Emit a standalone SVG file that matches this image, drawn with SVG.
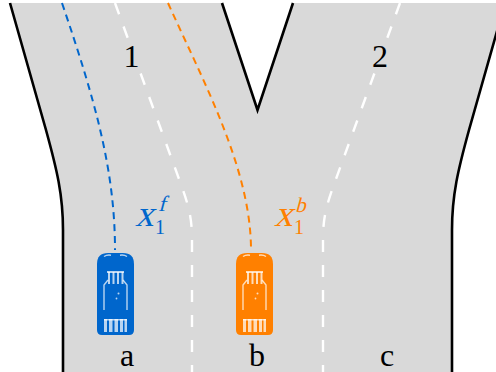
<svg xmlns="http://www.w3.org/2000/svg" xmlns:xlink="http://www.w3.org/1999/xlink" width="496" height="372" viewBox="0 0 496 372">
  <style>
    .edge { fill: none; stroke: #000; stroke-width: 2.6; stroke-linejoin: miter; }
    .lane { fill: none; stroke: #fff; stroke-width: 2.4; stroke-dasharray: 12 13; }
    .path { fill: none; stroke-width: 2; stroke-dasharray: 7 5; }
    .lbl { font-family: "Liberation Serif", "DejaVu Serif", serif; font-size: 32px; fill: #000; text-anchor: middle; }
    .math { font-family: "Liberation Serif", "DejaVu Serif", serif; }
    .det { fill: #fff; fill-opacity: 0.72; }
    .detl { fill: none; stroke: #fff; stroke-opacity: 0.72; stroke-width: 1.4; }
  </style>
  <defs>
    <!-- car seen from above, local origin at top-left, 37 x 82 -->
    <path id="carBody" d="M0,11 Q0,0 11,0 L26,0 Q37,0 37,11 L37,77 Q37,82 32,82 L5,82 Q0,82 0,77 Z"/>
    <g id="carDetail">
      <path class="detl" d="M7,3.5 Q10,1.5 14,2.2 M23,2.2 Q27,1.5 30,3.5"/>
      <rect class="det" x="10" y="18" width="17" height="2"/>
      <rect class="det" x="11" y="19" width="2" height="12"/>
      <rect class="det" x="15.5" y="19" width="2" height="12"/>
      <rect class="det" x="20" y="19" width="2" height="12"/>
      <rect class="det" x="24.5" y="19" width="2" height="12"/>
      <path class="detl" d="M11,27 L7,32 L7,57 M26,27 L30,32 L30,57"/>
      <circle class="det" cx="21.5" cy="40.5" r="1"/>
      <circle class="det" cx="19.5" cy="45.5" r="0.9"/>
      <rect class="det" x="7" y="66" width="23" height="1.5"/>
      <rect class="det" x="7" y="66" width="3" height="13"/>
      <rect class="det" x="12" y="66" width="3.5" height="13"/>
      <rect class="det" x="17.5" y="66" width="3.5" height="13"/>
      <rect class="det" x="23" y="66" width="3" height="13"/>
      <rect class="det" x="27.5" y="66" width="2.5" height="13"/>
    </g>
  </defs>

  <!-- road surface -->
  <g id="road">
    <path d="M10,3 L222,3 L257.5,110 L293,3 L505,3 L469,130 C458,170 452,195 452,230 L452,372 L63,372 L63,230 C63,195 57,170 46,130 Z" fill="#d9d9d9"/>
    <path class="lane" d="M115,3 L183,190 C190,210 192,222 192,240 L192,372"/>
    <path class="lane" d="M400,3 L332,190 C325,210 323,222 323,240 L323,372"/>
    <path class="edge" d="M10,3 L46,130 C57,170 63,195 63,230 L63,372"/>
    <path class="edge" d="M505,3 L469,130 C458,170 452,195 452,230 L452,372"/>
    <path class="edge" d="M222,3 L257.5,110 L293,3"/>
  </g>

  <!-- planned trajectories -->
  <g id="connectors">
    <path class="path" stroke="#0066cc" d="M62,3 C95,100 115,170 115,250"/>
    <path class="path" stroke="#ff8000" d="M168,3 C205,85 251,170 251,250"/>
  </g>

  <!-- branch labels on a road-coloured backing -->
  <g id="branch1">
    <rect x="121" y="42" width="22" height="30" fill="#d9d9d9"/>
    <text class="lbl" x="131.5" y="67">1</text>
  </g>
  <g id="branch2">
    <rect x="369" y="42" width="22" height="30" fill="#d9d9d9"/>
    <text class="lbl" x="380" y="67">2</text>
  </g>

  <g id="carA" transform="translate(97,253)">
    <use xlink:href="#carBody" fill="#0066cc"/>
    <use xlink:href="#carDetail"/>
  </g>
  <g id="carB" transform="translate(236,253)">
    <use xlink:href="#carBody" fill="#ff8000"/>
    <use xlink:href="#carDetail"/>
  </g>

  <!-- math labels: slanted serif for the italic symbols -->
  <g id="labelF" class="math" fill="#0066cc">
    <text transform="translate(135,226) skewX(-15)" font-size="37">x</text>
    <text transform="translate(158,211) skewX(-15)" font-size="22">f</text>
    <text x="155" y="234" font-size="20">1</text>
  </g>
  <g id="labelB" class="math" fill="#ff8000">
    <text transform="translate(274,226) skewX(-15)" font-size="37">x</text>
    <text transform="translate(295,212) skewX(-15)" font-size="21">b</text>
    <text x="294" y="234" font-size="20">1</text>
  </g>

  <g id="laneA"><text class="lbl" x="127" y="366">a</text></g>
  <g id="laneB"><text class="lbl" x="257" y="366">b</text></g>
  <g id="laneC"><text class="lbl" x="387" y="366">c</text></g>
</svg>
